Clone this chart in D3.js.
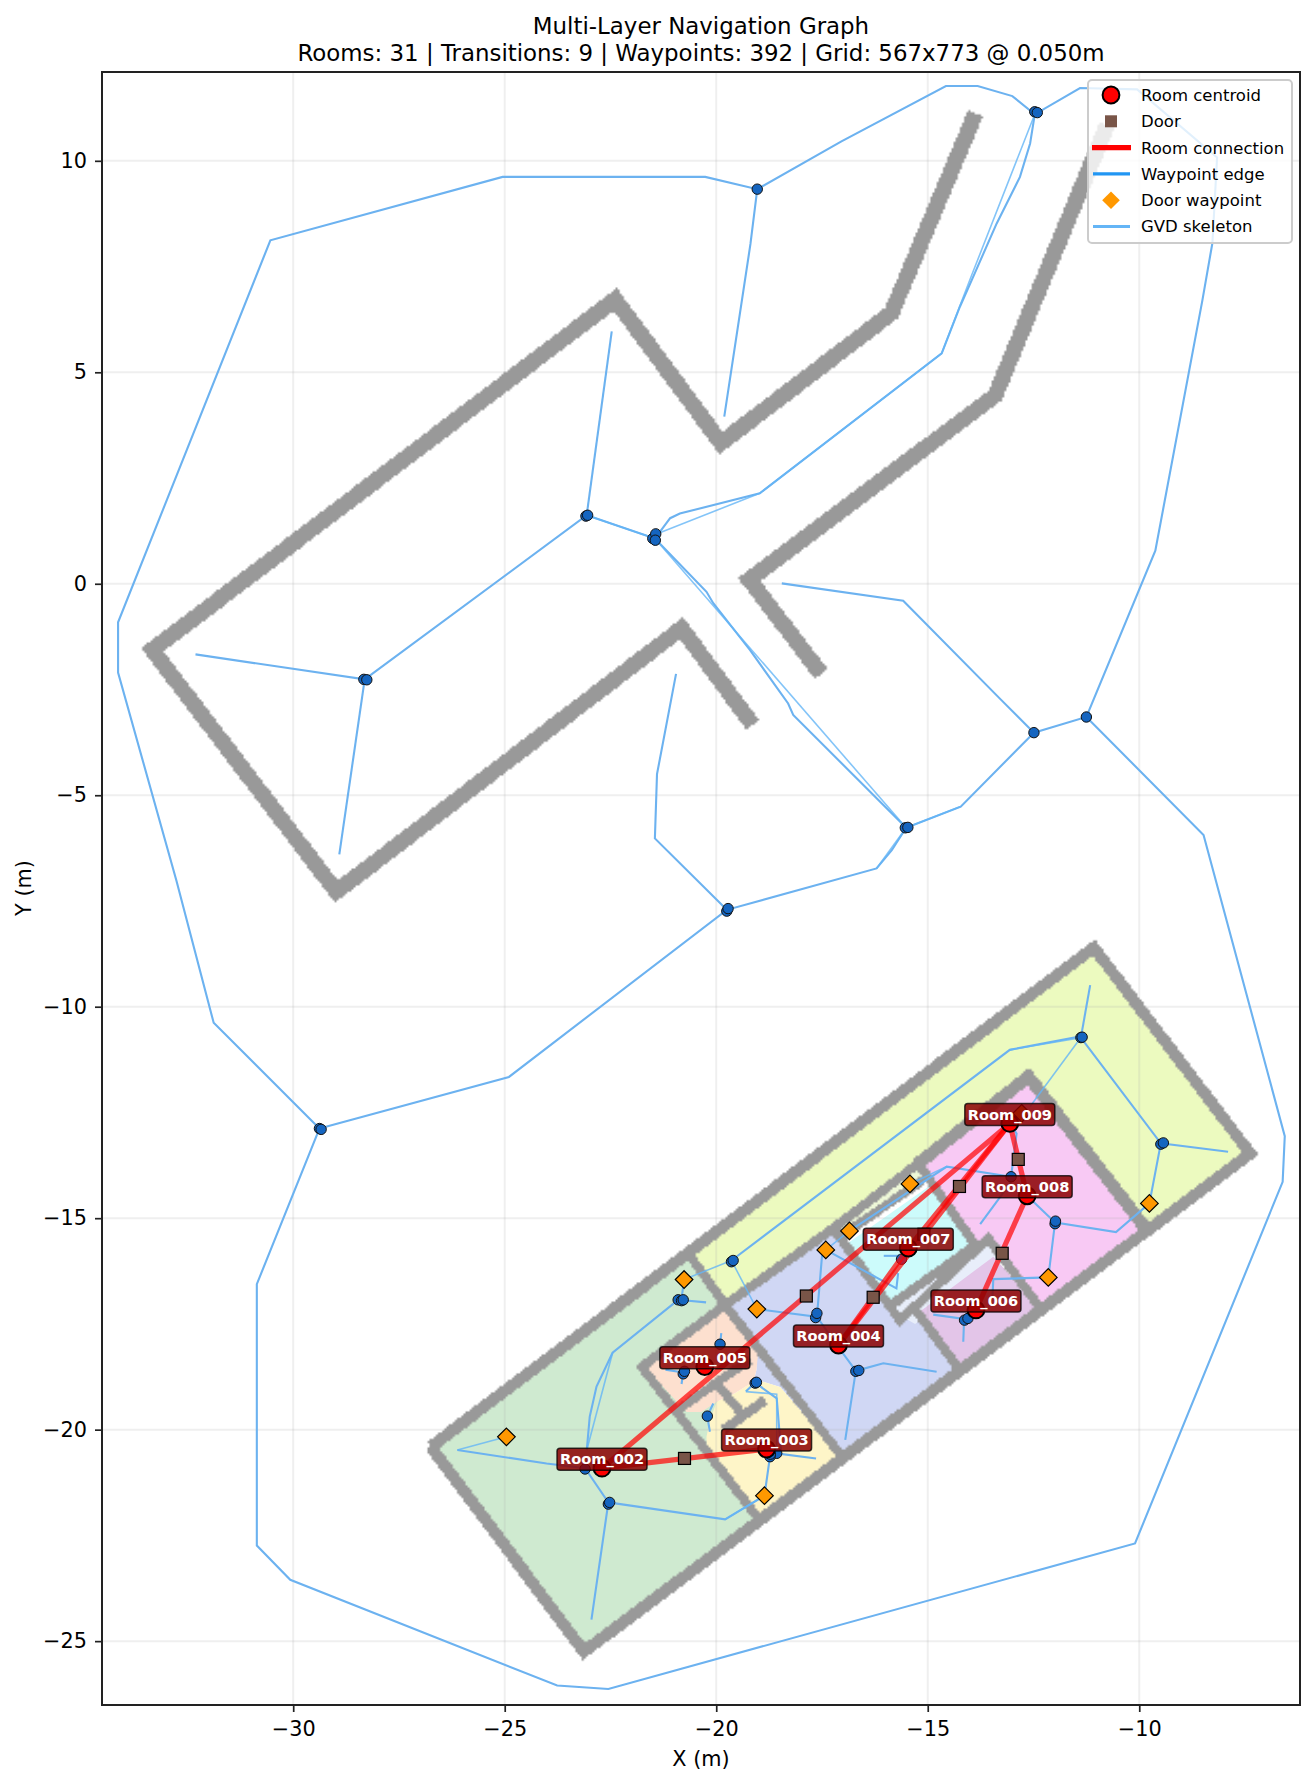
<!DOCTYPE html>
<html>
<head>
<meta charset="utf-8">
<script src="https://cdn.jsdelivr.net/npm/d3@7"></script>
<style>
  body { margin: 0; background: white; }
  text { font-family: "DejaVu Sans", sans-serif; }
</style>
</head>
<body>
<div id="app"></div>
<script>
const titleLines = ["Multi-Layer Navigation Graph", "Rooms: 31 | Transitions: 9 | Waypoints: 392 | Grid: 567x773 @ 0.050m"]
const xTicks = [-30, -25, -20, -15, -10]
const yTicks = [-25, -20, -15, -10, -5, 0, 5, 10]
const gridCols = 567, gridRows = 773

// room fills, in metres
const roomGreen = [[-26.75,-20.4],[-20.67,-15.82],[-19.79,-17.05],[-20,-20],[-19,-22.1],[-23.13,-25.25]]
const roomOlive = [[-20.67,-15.82],[-11.08,-8.6],[-7.38,-13.47],[-9.8,-15.3],[-12.62,-11.65],[-19.79,-17.05]]
const roomLavender = [[-19.79,-17.05],[-17.23,-15.24],[-15.66,-17.41],[-15.26,-17.21],[-14.24,-18.59],[-17,-20.68],[-18.49,-18.99],[-18.89,-18.87],[-19.12,-18.87],[-19.05,-18.59],[-19.05,-18.05]]
const roomPeach = [[-19.79,-17.1],[-19,-18.1],[-19.05,-18.59],[-19.12,-18.87],[-19.56,-19.14],[-19.99,-19.34],[-20.35,-19.58],[-20.7,-19.58],[-21.7,-18.52]]
const roomCream = [[-19.56,-19.14],[-19.12,-18.87],[-18.89,-18.87],[-18.49,-18.99],[-17,-20.68],[-19,-22.1],[-20.23,-20.5],[-20.23,-20.17],[-20.15,-19.78],[-19.99,-19.34]]
const roomStripe = [[-17.23,-15.24],[-15.27,-13.74],[-15.11,-14.1],[-17.08,-15.44]]
const roomCyan = [[-16.9,-15.6],[-14.9,-14.2],[-13.88,-15.63],[-15.86,-17.05]]
const roomSliver = [[-16,-17.1],[-13.9,-15.55],[-13.5,-15.4],[-13.1,-15.9],[-15.3,-17.5]]
const roomPink = [[-15.22,-13.75],[-12.62,-11.8],[-9.85,-15.3],[-12.25,-17.1],[-13.24,-15.9],[-13.57,-15.48],[-13.88,-15.63]]
const roomMauve = [[-15.19,-17.21],[-13.45,-15.91],[-12.32,-17.15],[-14.24,-18.59]]

const roomFills = [
  [roomGreen, "#cfead0"], [roomOlive, "#ecfabf"], [roomLavender, "#d0d7f4"], [roomCream, "#fef5c8"], [roomPeach, "#fde0cf"],
  [roomStripe, "#eef8d8"], [roomCyan, "#ccfbfb"], [roomSliver, "#e8eefa"], [roomPink, "#f8c9f4"], [roomMauve, "#e3c5e8"]
]

// walls
const upperWallA = [[-19.14,-3.33],[-20.82,-1.05],[-28.98,-7.28],[-33.33,-1.56],[-22.39,6.72],[-19.89,3.33],[-15.86,6.4],[-13.87,11.13]]
const upperWallB = [[-17.52,-2.13],[-19.22,0.1],[-13.4,4.46],[-10.76,10.84]]
const outerWall = [[-26.75,-20.4],[-11.08,-8.6],[-7.38,-13.47],[-23.13,-25.25],[-26.75,-20.4]]
const wallOliveEnd = [[-15.27,-13.74],[-12.62,-11.65],[-9.8,-15.3]]
const innerWalls = [
  [[-20.67,-15.82],[-19.79,-17.05],[-17,-20.68]],
  [[-19.79,-17.05],[-21.76,-18.52],[-18.98,-22.13]],
  [[-20.98,-19.58],[-19.68,-18.67],[-19.2,-18.35]],
  [[-19.95,-18.95],[-19.4,-19.62]],
  [[-19.83,-20.01],[-18.85,-19.3]],
  [[-19.79,-17.05],[-17.23,-15.24],[-15.27,-13.74]],
  [[-17.23,-15.24],[-15.66,-17.41],[-13.57,-15.48],[-12.32,-17.15]],
  [[-15.26,-17.21],[-14.2,-18.65]],
  [[-15.86,-17.05],[-13.88,-15.63]],
  [[-15.23,-13.7],[-13.88,-15.63]],
  [[-17.08,-15.44],[-15.11,-14.1]]
]

// stepped skeleton paths
const gvdLoopTop = [[-29.38,-12.88],[-31.88,-10.38],[-32.76,-7.02],[-34.14,-2.1],[-34.14,-0.91],[-30.54,8.12],[-25.05,9.62],[-20.26,9.62],[-19.03,9.33],[-17.04,10.46],[-14.57,11.77],[-13.82,11.77],[-13,11.53],[-12.47,11.1],[-11.4,11.72],[-10.05,11.69],[-8.16,10.08],[-8.27,8.06],[-8.51,6.69],[-9.62,0.78],[-11.25,-3.15],[-12.49,-3.52],[-14.22,-5.27],[-15.51,-5.77]]
const gvdLoopMid = [[-15.51,-5.77],[-15.85,-6.3],[-16.21,-6.73],[-19.75,-7.71],[-24.9,-11.66],[-29.38,-12.88]]
const gvdLoopBottom = [[-29.38,-12.88],[-30.86,-16.56],[-30.86,-22.74],[-30.07,-23.55],[-23.76,-26.05],[-22.55,-26.13],[-10.1,-22.69],[-6.61,-14.14],[-6.56,-13.06],[-8.48,-5.94],[-11.25,-3.15]]
const gvdUpperBranches = [
  [[-19.75,-7.71],[-21.45,-6.02],[-21.4,-4.5],[-20.95,-2.13]],
  [[-15.51,-5.77],[-18.18,-3.1],[-18.3,-2.83],[-19.2,-1.57],[-20.07,-0.46],[-20.23,-0.19],[-21.45,1.07]],
  [[-21.45,1.07],[-21.09,1.55],[-20.86,1.66],[-18.97,2.14],[-14.67,5.45],[-14.24,6.55],[-13.96,7.18],[-13.37,8.52],[-12.82,9.62],[-12.58,10.41],[-12.47,11.1]],
  [[-19.03,9.33],[-19.19,8.04],[-19.81,3.95]],
  [[-21.45,1.07],[-23.06,1.62],[-28.31,-2.26],[-32.31,-1.67]],
  [[-28.31,-2.26],[-28.91,-6.4]],
  [[-23.06,1.64],[-22.47,5.97]],
  [[-18.45,0.01],[-15.58,-0.4],[-13.3,-2.71],[-12.49,-3.52]]
]
const gvdRoomBranches = [
  [[-26.12,-20.48],[-24.01,-20.8],[-23.1,-20.91],[-22.55,-21.72],[-22.95,-24.49]],
  [[-22.55,-21.72],[-19.79,-22.12],[-18.86,-21.56]],
  [[-23.06,-20.48],[-22.99,-19.69],[-22.83,-18.98],[-22.45,-18.18],[-20.9,-16.93],[-20.24,-16.99]],
  [[-20.76,-16.45],[-20.82,-16.9]],
  [[-19.64,-16],[-13.06,-11.02],[-11.38,-10.7]],
  [[-19.04,-17.15],[-17.62,-17.33],[-17.5,-15.9],[-17.41,-15.75]],
  [[-17.62,-17.33],[-17.12,-18.04],[-16.7,-18.61],[-16.95,-20.24]],
  [[-16.7,-18.61],[-16.05,-18.43],[-14.79,-18.63]],
  [[-19.91,-17.98],[-19.88,-17.72]],
  [[-21.2,-18.58],[-20.78,-18.65],[-20.82,-18.92]],
  [[-19.3,-19.1],[-19.08,-18.89],[-18.57,-19.26],[-18.47,-20.48]],
  [[-20.07,-19.38],[-20.21,-19.68],[-20.15,-20.05]],
  [[-17.64,-20.68],[-18.57,-20.56],[-18.73,-20.64],[-18.86,-21.56]],
  [[-11.38,-10.73],[-11.16,-9.49]],
  [[-11.38,-10.73],[-9.49,-13.23],[-7.9,-13.43]],
  [[-9.49,-13.23],[-9.76,-14.65],[-10.55,-15.33],[-11.99,-15.1],[-12.15,-16.4],[-13.45,-16.44],[-13.47,-16.85]],
  [[-11.99,-15.1],[-12.65,-14.47]],
  [[-13.03,-14.02],[-14.55,-13.78],[-16.85,-15.3]],
  [[-13.03,-14.02],[-12.9,-13],[-13.06,-12.76]],
  [[-13.03,-14.15],[-13.76,-15.14]],
  [[-16.04,-15.89],[-15.62,-15.89]],
  [[-15.7,-16.3],[-15.74,-16.66],[-17.41,-15.75]],
  [[-14.87,-17.28],[-14.14,-17.38],[-14.16,-17.92]]
]

// straight links between waypoints
const waypointLinks = [
  [[-15.51,-5.77],[-21.45,1.07]],
  [[-21.35,1.2],[-18.97,2.14]],
  [[-21.45,1.07],[-23.06,1.62]],
  [[-18.97,2.14],[-14.67,5.45]],
  [[-14.67,5.45],[-13.96,7.3],[-12.47,11.1]],
  [[-15.51,-5.77],[-14.24,-5.27]],
  [[-15.51,-5.77],[-16.21,-6.73]],
  [[-24.96,-20.17],[-26.12,-20.48]],
  [[-22.45,-18.18],[-23.06,-20.48]],
  [[-20.76,-16.45],[-19.64,-16]],
  [[-19.64,-16],[-19.04,-17.15]],
  [[-13.06,-11.02],[-11.38,-10.73]],
  [[-11.38,-10.73],[-12.58,-12.36]],
  [[-19.79,-22.12],[-18.86,-21.56]],
  [[-16.85,-15.3],[-17.41,-15.75]],
  [[-15.42,-14.19],[-14.55,-13.78]],
  [[-19.3,-19.1],[-18.57,-19.16],[-18.57,-20.48]]
]

const waypoints = [
  [-29.38,-12.88],[-29.34,-12.9],[-19.03,9.33],[-12.47,11.16],[-12.41,11.14],[-23.08,1.6],[-23.04,1.62],
  [-21.5,1.07],[-21.43,1.18],[-21.44,1.03],[-28.33,-2.26],[-28.26,-2.27],[-15.53,-5.77],[-15.47,-5.76],
  [-19.75,-7.74],[-19.72,-7.68],[-12.49,-3.52],[-11.25,-3.15],
  [-23.1,-20.93],[-22.55,-21.76],[-22.52,-21.72],[-20.9,-16.93],[-20.82,-16.95],[-20.78,-16.93],
  [-19.64,-16.03],[-19.6,-16],[-17.65,-17.35],[-17.62,-17.25],[-16.7,-18.62],[-16.63,-18.6],
  [-19.91,-17.98],[-20.78,-18.68],[-20.75,-18.62],[-19.08,-18.9],[-19.05,-18.88],[-20.21,-19.68],
  [-18.57,-20.56],[-18.73,-20.64],[-18.72,-20.58],[-11.38,-10.73],[-11.35,-10.72],[-9.49,-13.25],[-9.43,-13.22],
  [-11.99,-15.13],[-11.98,-15.07],[-13.03,-14.02],[-15.62,-15.97],[-14.13,-17.41],[-14.05,-17.37]
]
const doors = [[-20.75,-20.68],[-17.87,-16.84],[-16.29,-16.87],[-15.09,-15.38],[-14.25,-14.25],[-13.24,-15.83],[-12.86,-13.61]]
const doorWaypoints = [[-24.96,-20.17],[-20.76,-16.45],[-19.04,-17.15],[-17.41,-15.75],[-16.85,-15.3],[-15.42,-14.19],[-12.15,-16.4],[-9.76,-14.65],[-12.78,-12.52],[-18.86,-21.56]]

const roomNames = ["Room_002","Room_003","Room_004","Room_005","Room_006","Room_007","Room_008","Room_009"]
const roomX = [-22.7,-18.81,-17.11,-20.27,-13.86,-15.46,-12.65,-13.06]
const roomY = [-20.91,-20.46,-18.0,-18.51,-17.17,-15.71,-14.47,-12.76]
const connections = [[0,1],[0,7],[2,5],[2,7],[5,7],[4,6],[6,7]]

const legendNames = ["Room centroid","Door","Room connection","Waypoint edge","Door waypoint","GVD skeleton"]

const figW = 1315, figH = 1783
const axL = 102, axR = 1300, axT = 72, axB = 1705

const x = d3.scaleLinear().domain([-34.52, -6.2]).range([axL, axR])
const y = d3.scaleLinear().domain([12.1, -26.51]).range([axT, axB])
const line = d3.line().x(d => x(d[0])).y(d => y(d[1]))

const svg = d3.select("#app").append("svg").attr("width", figW).attr("height", figH).style("display", "block")

svg.append("defs").append("clipPath").attr("id", "plot").append("rect")
  .attr("x", axL).attr("y", axT).attr("width", axR - axL).attr("height", axB - axT)

const plot = svg.append("g").attr("clip-path", "url(#plot)")

plot.selectAll(".room").data(roomFills).join("path").attr("class", "room")
  .attr("d", d => line(d[0]) + "Z").attr("fill", d => d[1])

// grid
plot.selectAll(".gx").data(xTicks).join("line").attr("class", "gx").attr("x1", d => x(d)).attr("x2", d => x(d)).attr("y1", axT).attr("y2", axB)
  .attr("stroke", "#b0b0b0").attr("stroke-opacity", 0.2).attr("stroke-width", 2)
plot.selectAll(".gy").data(yTicks).join("line").attr("class", "gy").attr("y1", d => y(d)).attr("y2", d => y(d)).attr("x1", axL).attr("x2", axR)
  .attr("stroke", "#b0b0b0").attr("stroke-opacity", 0.2).attr("stroke-width", 2)

// walls go through an occupancy grid first, so they get the blocky edge of the map
const cols = d3.scaleLinear().domain(x.domain()).range([0, gridCols])
const rows = d3.scaleLinear().domain(y.domain()).range([0, gridRows])
const canvas = document.createElement("canvas")
canvas.width = gridCols
canvas.height = gridRows
const ctx = canvas.getContext("2d")
const gridLine = d3.line().x(d => cols(d[0])).y(d => rows(d[1])).context(ctx)
function wall(points, w) {
  ctx.beginPath()
  gridLine(points)
  ctx.lineWidth = w / 0.05
  ctx.stroke()
}
ctx.strokeStyle = "#000"
wall(upperWallA, 0.38)
wall(upperWallB, 0.38)
innerWalls.forEach(w => wall(w, 0.22))
wall(wallOliveEnd, 0.3)
wall(outerWall, 0.28)
const cells = ctx.getImageData(0, 0, gridCols, gridRows)
for (let i = 0; i < cells.data.length; i += 4) {
  const on = cells.data[i + 3] > 127
  cells.data[i] = cells.data[i + 1] = cells.data[i + 2] = 0x99
  cells.data[i + 3] = on ? 255 : 0
}
ctx.putImageData(cells, 0, 0)
plot.append("image").attr("href", canvas.toDataURL()).attr("x", axL).attr("y", axT)
  .attr("width", axR - axL).attr("height", axB - axT).attr("preserveAspectRatio", "none")

const gvdAll = [gvdLoopTop, gvdLoopMid, gvdLoopBottom].concat(gvdUpperBranches, gvdRoomBranches)
plot.selectAll(".gvd").data(gvdAll).join("path").attr("class", "gvd").attr("d", line)
  .attr("fill", "none").attr("stroke", "#6cb2f0").attr("stroke-width", 2.1)
plot.selectAll(".link").data(waypointLinks).join("path").attr("class", "link").attr("d", line)
  .attr("fill", "none").attr("stroke", "#64b5f6").attr("stroke-opacity", 0.8).attr("stroke-width", 1.6)

plot.selectAll(".wp").data(waypoints).join("circle").attr("class", "wp")
  .attr("cx", d => x(d[0])).attr("cy", d => y(d[1])).attr("r", 5.2)
  .attr("fill", "#1565c0").attr("stroke", "#111").attr("stroke-width", 1)

plot.selectAll(".conn").data(connections).join("line").attr("class", "conn")
  .attr("x1", d => x(roomX[d[0]])).attr("y1", d => y(roomY[d[0]]))
  .attr("x2", d => x(roomX[d[1]])).attr("y2", d => y(roomY[d[1]]))
  .attr("stroke", "#ff0000").attr("stroke-opacity", 0.7).attr("stroke-width", 5.2)

const doorSize = 12
plot.selectAll(".door").data(doors).join("rect").attr("class", "door")
  .attr("x", d => x(d[0]) - doorSize / 2).attr("y", d => y(d[1]) - doorSize / 2)
  .attr("width", doorSize).attr("height", doorSize)
  .attr("fill", "#795548").attr("stroke", "#000").attr("stroke-width", 1.2)

const diamond = r => `M0,${-r}L${r},0L0,${r}L${-r},0Z`
plot.selectAll(".dw").data(doorWaypoints).join("path").attr("class", "dw")
  .attr("d", diamond(8.8)).attr("transform", d => `translate(${x(d[0])},${y(d[1])})`)
  .attr("fill", "#ff9800").attr("stroke", "#000").attr("stroke-width", 1.2)

plot.selectAll(".centroid").data(roomNames).join("circle").attr("class", "centroid")
  .attr("cx", (d, i) => x(roomX[i])).attr("cy", (d, i) => y(roomY[i])).attr("r", 8.4)
  .attr("fill", "#ff0000").attr("stroke", "#000").attr("stroke-width", 2)

// room labels
roomNames.forEach((name, i) => {
  const g = plot.append("g").attr("transform", `translate(${x(roomX[i])},${y(roomY[i]) - 9})`)
  g.append("rect").attr("x", -45).attr("y", -11).attr("width", 90).attr("height", 22)
    .attr("fill", "#8b0000").attr("fill-opacity", 0.85)
    .attr("stroke", "#000").attr("stroke-opacity", 0.75).attr("stroke-width", 1.5).attr("rx", 3)
  g.append("text").attr("text-anchor", "middle").attr("dy", "0.36em")
    .attr("font-size", 14.6).attr("font-weight", "bold").attr("fill", "white").text(name)
})

// spine and axes
svg.append("rect").attr("x", axL).attr("y", axT).attr("width", axR - axL).attr("height", axB - axT)
  .attr("fill", "none").attr("stroke", "#222").attr("stroke-width", 2)

const xAxis = svg.append("g").attr("transform", `translate(0,${axB})`)
  .call(d3.axisBottom(x).tickValues(xTicks).tickSize(7).tickPadding(9))
const yAxis = svg.append("g").attr("transform", `translate(${axL},0)`)
  .call(d3.axisLeft(y).tickValues(yTicks).tickSize(7).tickPadding(8))
for (const ax of [xAxis, yAxis]) {
  ax.select(".domain").remove()
  ax.selectAll("line").attr("stroke", "#222").attr("stroke-width", 1.7)
  ax.selectAll("text").attr("font-size", 20.8).attr("font-family", "DejaVu Sans").attr("fill", "#000")
}

svg.append("text").attr("x", (axL + axR) / 2).attr("y", 1766).attr("text-anchor", "middle")
  .attr("font-size", 20.8).text("X (m)")
svg.append("text").attr("transform", "translate(31,888) rotate(-90)").attr("text-anchor", "middle")
  .attr("font-size", 20.8).text("Y (m)")

svg.selectAll(".title").data(titleLines).join("text").attr("class", "title")
  .attr("x", (axL + axR) / 2).attr("y", (d, i) => 34 + i * 27)
  .attr("text-anchor", "middle").attr("font-size", 22.9).text(d => d)

// legend
const lg = svg.append("g")
lg.append("rect").attr("x", 1088).attr("y", 80).attr("width", 204).attr("height", 163).attr("rx", 4)
  .attr("fill", "white").attr("fill-opacity", 0.8).attr("stroke", "#ccc").attr("stroke-width", 2)
const rowY = i => 95 + i * 26.3
legendNames.forEach((name, i) => {
  lg.append("text").attr("x", 1141).attr("y", rowY(i)).attr("dy", "0.36em").attr("font-size", 16.5).text(name)
})
lg.append("circle").attr("cx", 1111).attr("cy", rowY(0)).attr("r", 8.4).attr("fill", "#ff0000").attr("stroke", "#000").attr("stroke-width", 2)
lg.append("rect").attr("x", 1105).attr("y", rowY(1) - 6).attr("width", 12).attr("height", 12).attr("fill", "#795548")
lg.append("line").attr("x1", 1092).attr("x2", 1131).attr("y1", rowY(2)).attr("y2", rowY(2)).attr("stroke", "#ff0000").attr("stroke-width", 5.2)
lg.append("line").attr("x1", 1093).attr("x2", 1130).attr("y1", rowY(3)).attr("y2", rowY(3)).attr("stroke", "#2196f3").attr("stroke-width", 3.1)
lg.append("path").attr("d", diamond(8.8)).attr("transform", `translate(1111,${rowY(4)})`).attr("fill", "#ff9800")
lg.append("line").attr("x1", 1093).attr("x2", 1130).attr("y1", rowY(5)).attr("y2", rowY(5)).attr("stroke", "#64b5f6").attr("stroke-width", 3.1)
</script>
</body>
</html>
